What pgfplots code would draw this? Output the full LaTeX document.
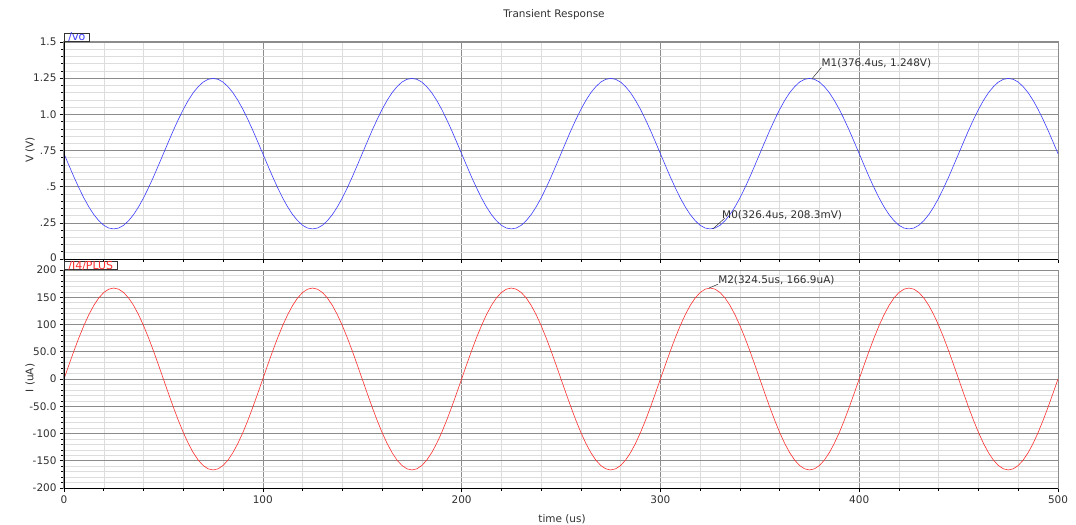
\documentclass[border=0pt]{standalone}
\usepackage{fontspec}
\setmainfont{DejaVu Sans}
\usepackage{pgfplots}
\pgfplotsset{compat=1.18}
\definecolor{wblue}{HTML}{3C3CFF}
\definecolor{wred}{HTML}{FF2E2E}
\definecolor{gmaj}{HTML}{8C8C8C}
\definecolor{gmin}{HTML}{DDDDDD}
\definecolor{txt}{HTML}{303030}
\pgfplotsset{
  panel/.style={
    scale only axis, width=994bp, xmin=0, xmax=500,
    xtick={0,100,...,500}, minor x tick num=4, minor y tick num=4,
    grid=both,
    major grid style={gmaj, line width=0.6bp},
    minor grid style={gmin, line width=0.5bp},
    axis line style={gmaj, line width=1bp},
    tick align=outside, major tick length=4bp, minor tick length=2.5bp,
    tick style={black, line width=0.6bp},
    xtick pos=bottom, ytick pos=left,
    /pgf/number format/assume math mode=true,
    tick label style={font=\fontsize{10.5}{12}\selectfont, text=txt},
    clip=false,
  },
}
\tikzset{
  tab/.style={draw=black!80, fill=white, anchor=south west, inner xsep=4bp,
    inner ysep=0.3bp, text height=7bp, text depth=0.3bp, line width=0.8bp,
    font=\fontsize{11}{12}\selectfont},
  mk/.style={font=\fontsize{10.5}{12}\selectfont, text=txt, anchor=west, inner sep=0pt},
}
\begin{document}
\begin{tikzpicture}
\useasboundingbox (-64bp,42bp) rectangle (1012bp,-483bp);

% upper panel: V(/vo)
\begin{axis}[panel, at={(0,0)}, anchor=north west, height=217bp,
  ymin=0, ymax=1.5, ytick={0,0.25,0.5,0.75,1.0,1.25,1.5},
  yticklabels={,.25,.5,.75,1.0,1.25,1.5}, xticklabels={}]
\addplot[wblue, line width=0.6bp, mark=none] coordinates {
(0,0.728)(2.5,0.647)(5,0.567)(7.5,0.492)(10,0.422)(12.5,0.360)(15,0.307)(17.5,0.265)(20,0.233)(22.5,0.214)
(25,0.208)(27.5,0.214)(30,0.233)(32.5,0.265)(35,0.307)(37.5,0.360)(40,0.422)(42.5,0.492)(45,0.567)(47.5,0.647)
(50,0.728)(52.5,0.809)(55,0.889)(57.5,0.964)(60,1.034)(62.5,1.096)(65,1.149)(67.5,1.191)(70,1.223)(72.5,1.242)
(75,1.248)(77.5,1.242)(80,1.223)(82.5,1.191)(85,1.149)(87.5,1.096)(90,1.034)(92.5,0.964)(95,0.889)(97.5,0.809)
(100,0.728)(102.5,0.647)(105,0.567)(107.5,0.492)(110,0.422)(112.5,0.360)(115,0.307)(117.5,0.265)(120,0.233)(122.5,0.214)
(125,0.208)(127.5,0.214)(130,0.233)(132.5,0.265)(135,0.307)(137.5,0.360)(140,0.422)(142.5,0.492)(145,0.567)(147.5,0.647)
(150,0.728)(152.5,0.809)(155,0.889)(157.5,0.964)(160,1.034)(162.5,1.096)(165,1.149)(167.5,1.191)(170,1.223)(172.5,1.242)
(175,1.248)(177.5,1.242)(180,1.223)(182.5,1.191)(185,1.149)(187.5,1.096)(190,1.034)(192.5,0.964)(195,0.889)(197.5,0.809)
(200,0.728)(202.5,0.647)(205,0.567)(207.5,0.492)(210,0.422)(212.5,0.360)(215,0.307)(217.5,0.265)(220,0.233)(222.5,0.214)
(225,0.208)(227.5,0.214)(230,0.233)(232.5,0.265)(235,0.307)(237.5,0.360)(240,0.422)(242.5,0.492)(245,0.567)(247.5,0.647)
(250,0.728)(252.5,0.809)(255,0.889)(257.5,0.964)(260,1.034)(262.5,1.096)(265,1.149)(267.5,1.191)(270,1.223)(272.5,1.242)
(275,1.248)(277.5,1.242)(280,1.223)(282.5,1.191)(285,1.149)(287.5,1.096)(290,1.034)(292.5,0.964)(295,0.889)(297.5,0.809)
(300,0.728)(302.5,0.647)(305,0.567)(307.5,0.492)(310,0.422)(312.5,0.360)(315,0.307)(317.5,0.265)(320,0.233)(322.5,0.214)
(325,0.208)(327.5,0.214)(330,0.233)(332.5,0.265)(335,0.307)(337.5,0.360)(340,0.422)(342.5,0.492)(345,0.567)(347.5,0.647)
(350,0.728)(352.5,0.809)(355,0.889)(357.5,0.964)(360,1.034)(362.5,1.096)(365,1.149)(367.5,1.191)(370,1.223)(372.5,1.242)
(375,1.248)(377.5,1.242)(380,1.223)(382.5,1.191)(385,1.149)(387.5,1.096)(390,1.034)(392.5,0.964)(395,0.889)(397.5,0.809)
(400,0.728)(402.5,0.647)(405,0.567)(407.5,0.492)(410,0.422)(412.5,0.360)(415,0.307)(417.5,0.265)(420,0.233)(422.5,0.214)
(425,0.208)(427.5,0.214)(430,0.233)(432.5,0.265)(435,0.307)(437.5,0.360)(440,0.422)(442.5,0.492)(445,0.567)(447.5,0.647)
(450,0.728)(452.5,0.809)(455,0.889)(457.5,0.964)(460,1.034)(462.5,1.096)(465,1.149)(467.5,1.191)(470,1.223)(472.5,1.242)
(475,1.248)(477.5,1.242)(480,1.223)(482.5,1.191)(485,1.149)(487.5,1.096)(490,1.034)(492.5,0.964)(495,0.889)(497.5,0.809)
(500,0.728)};
\draw[black, line width=0.8bp] (rel axis cs:0,0) -- (rel axis cs:0,1);
\draw[black, line width=0.8bp] (rel axis cs:0,0) -- (rel axis cs:1,0);
\node[tab, text=wblue] at (rel axis cs:0,1) {/vo};
% the 0 label at the foot of the upper panel
\node[font=\fontsize{10.5}{12}\selectfont, text=txt, anchor=east, inner sep=0pt]
  at ([xshift=-7bp,yshift=1bp]rel axis cs:0,0) {0};
% markers
\draw[txt, line width=0.5bp] (axis cs:376.4,1.248) -- (axis cs:381,1.324);
\node[mk] at (axis cs:381,1.351) {M1(376.4us, 1.248V)};
\draw[txt, line width=0.5bp] (axis cs:326.4,0.2083) -- (axis cs:332.5,0.284);
\node[mk] at (axis cs:331,0.305) {M0(326.4us, 208.3mV)};
\end{axis}

% lower panel: I(/I4/PLUS)
\begin{axis}[panel, at={(0,-228bp)}, anchor=north west, height=218bp,
  ymin=-200, ymax=200, ytick={-200,-150,...,200},
  yticklabels={-200,-150,-100,-50.0,0,50.0,100,150,200},
  xticklabels={0,100,200,300,400,500}]
\addplot[wred, line width=0.6bp, mark=none] coordinates {
(0,0)(2.5,26.1)(5,51.6)(7.5,75.8)(10,98.1)(12.5,118.0)(15,135.0)(17.5,148.7)(20,158.7)(22.5,164.8)
(25,166.9)(27.5,164.8)(30,158.7)(32.5,148.7)(35,135.0)(37.5,118.0)(40,98.1)(42.5,75.8)(45,51.6)(47.5,26.1)
(50,0)(52.5,-26.1)(55,-51.6)(57.5,-75.8)(60,-98.1)(62.5,-118.0)(65,-135.0)(67.5,-148.7)(70,-158.7)(72.5,-164.8)
(75,-166.9)(77.5,-164.8)(80,-158.7)(82.5,-148.7)(85,-135.0)(87.5,-118.0)(90,-98.1)(92.5,-75.8)(95,-51.6)(97.5,-26.1)
(100,0)(102.5,26.1)(105,51.6)(107.5,75.8)(110,98.1)(112.5,118.0)(115,135.0)(117.5,148.7)(120,158.7)(122.5,164.8)
(125,166.9)(127.5,164.8)(130,158.7)(132.5,148.7)(135,135.0)(137.5,118.0)(140,98.1)(142.5,75.8)(145,51.6)(147.5,26.1)
(150,0)(152.5,-26.1)(155,-51.6)(157.5,-75.8)(160,-98.1)(162.5,-118.0)(165,-135.0)(167.5,-148.7)(170,-158.7)(172.5,-164.8)
(175,-166.9)(177.5,-164.8)(180,-158.7)(182.5,-148.7)(185,-135.0)(187.5,-118.0)(190,-98.1)(192.5,-75.8)(195,-51.6)(197.5,-26.1)
(200,0)(202.5,26.1)(205,51.6)(207.5,75.8)(210,98.1)(212.5,118.0)(215,135.0)(217.5,148.7)(220,158.7)(222.5,164.8)
(225,166.9)(227.5,164.8)(230,158.7)(232.5,148.7)(235,135.0)(237.5,118.0)(240,98.1)(242.5,75.8)(245,51.6)(247.5,26.1)
(250,0)(252.5,-26.1)(255,-51.6)(257.5,-75.8)(260,-98.1)(262.5,-118.0)(265,-135.0)(267.5,-148.7)(270,-158.7)(272.5,-164.8)
(275,-166.9)(277.5,-164.8)(280,-158.7)(282.5,-148.7)(285,-135.0)(287.5,-118.0)(290,-98.1)(292.5,-75.8)(295,-51.6)(297.5,-26.1)
(300,0)(302.5,26.1)(305,51.6)(307.5,75.8)(310,98.1)(312.5,118.0)(315,135.0)(317.5,148.7)(320,158.7)(322.5,164.8)
(325,166.9)(327.5,164.8)(330,158.7)(332.5,148.7)(335,135.0)(337.5,118.0)(340,98.1)(342.5,75.8)(345,51.6)(347.5,26.1)
(350,0)(352.5,-26.1)(355,-51.6)(357.5,-75.8)(360,-98.1)(362.5,-118.0)(365,-135.0)(367.5,-148.7)(370,-158.7)(372.5,-164.8)
(375,-166.9)(377.5,-164.8)(380,-158.7)(382.5,-148.7)(385,-135.0)(387.5,-118.0)(390,-98.1)(392.5,-75.8)(395,-51.6)(397.5,-26.1)
(400,0)(402.5,26.1)(405,51.6)(407.5,75.8)(410,98.1)(412.5,118.0)(415,135.0)(417.5,148.7)(420,158.7)(422.5,164.8)
(425,166.9)(427.5,164.8)(430,158.7)(432.5,148.7)(435,135.0)(437.5,118.0)(440,98.1)(442.5,75.8)(445,51.6)(447.5,26.1)
(450,0)(452.5,-26.1)(455,-51.6)(457.5,-75.8)(460,-98.1)(462.5,-118.0)(465,-135.0)(467.5,-148.7)(470,-158.7)(472.5,-164.8)
(475,-166.9)(477.5,-164.8)(480,-158.7)(482.5,-148.7)(485,-135.0)(487.5,-118.0)(490,-98.1)(492.5,-75.8)(495,-51.6)(497.5,-26.1)
(500,0)};
\draw[black, line width=0.8bp] (rel axis cs:0,0) -- (rel axis cs:0,1);
\draw[black, line width=0.8bp] (rel axis cs:0,0) -- (rel axis cs:1,0);
\node[tab, text=wred] at (rel axis cs:0,1) {/I4/PLUS};
\draw[txt, line width=0.5bp] (axis cs:324.5,166.9) -- (axis cs:329,174);
\node[mk] at (axis cs:329,181.6) {M2(324.5us, 166.9uA)};
\end{axis}

% titles and axis names
\node[font=\fontsize{10.5}{12}\selectfont, text=txt] at (490bp,27bp) {Transient Response};
\node[font=\fontsize{10.5}{12}\selectfont, text=txt, rotate=90] at (-34bp,-108bp) {V (V)};
\node[font=\fontsize{10.5}{12}\selectfont, text=txt, rotate=90] at (-34bp,-336bp) {I (uA)};
\node[font=\fontsize{10.5}{12}\selectfont, text=txt] at (498bp,-477bp) {time (us)};
\end{tikzpicture}
\end{document}
